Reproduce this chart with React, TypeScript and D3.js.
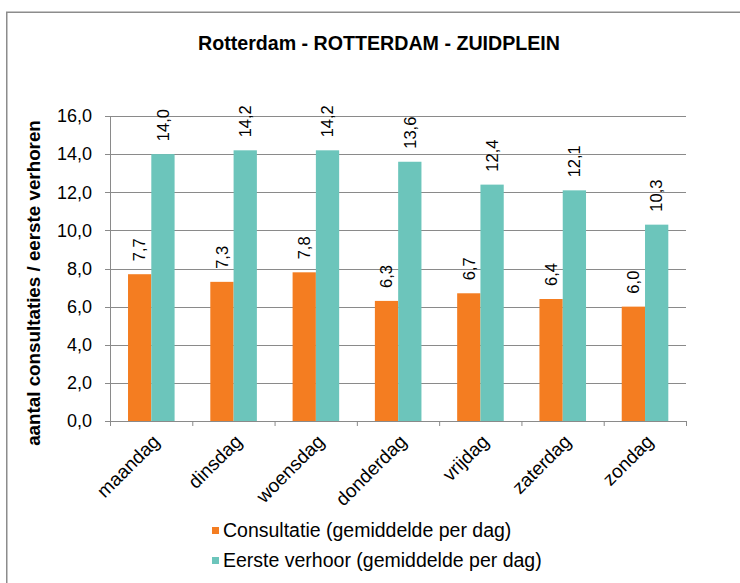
import React from "react";
import * as d3 from "d3";

const days = ["maandag", "dinsdag", "woensdag", "donderdag", "vrijdag", "zaterdag", "zondag"];
const consultatie = [7.7, 7.3, 7.8, 6.3, 6.7, 6.4, 6.0];
const eersteVerhoor = [14.0, 14.2, 14.2, 13.6, 12.4, 12.1, 10.3];
const yTicks = [0, 2, 4, 6, 8, 10, 12, 14, 16];
const seriesNames = ["Consultatie (gemiddelde per dag)", "Eerste verhoor (gemiddelde per dag)"];
const title = "Rotterdam - ROTTERDAM - ZUIDPLEIN";
const yTitle = "aantal consultaties / eerste verhoren";

const colors = ["#F47D21", "#6CC5BB"];
const fmt = (v: number) => v.toFixed(1).replace(".", ",");

export default function App() {
  const left = 110, right = 686, top = 116, bottom = 421;
  const x = d3.scaleBand<string>().domain(days).range([left, right]).padding(0);
  const bw = x.bandwidth();
  const inner = d3.scaleBand<string>().domain(["c", "e"]).range([bw * 0.219, bw * 0.785]).padding(0);
  const y = d3.scaleLinear().domain([0, 16]).range([bottom, top]);
  const font = "Liberation Sans, Arial, sans-serif";
  const series = [consultatie, eersteVerhoor];
  const keys = ["c", "e"];
  const grid = "#8a8a8a";

  return (
    <svg width={740} height={583} style={{ position: "absolute", left: 0, top: 0, background: "#fff" }} fontFamily={font}>
      <rect x={6.75} y={12.25} width={800} height={700} fill="#fff" stroke="#8c8c8c" strokeWidth={1.5} />
      <text x={379} y={50} textAnchor="middle" fontSize={21} fontWeight="bold" fill="#000" textLength={362} lengthAdjust="spacingAndGlyphs">{title}</text>
      {yTicks.map((t) => (
        <g key={t}>
          <line x1={left} x2={right} y1={Math.round(y(t)) + 0.5} y2={Math.round(y(t)) + 0.5} stroke={grid} strokeWidth={1} />
          <line x1={left - 5} x2={left} y1={Math.round(y(t)) + 0.5} y2={Math.round(y(t)) + 0.5} stroke={grid} />
          <text x={92} y={y(t)} dy="0.35em" textAnchor="end" fontSize={18} fill="#000">{fmt(t)}</text>
        </g>
      ))}
      <line x1={left + 0.5} x2={left + 0.5} y1={top} y2={bottom} stroke={grid} />
      {days.map((d, i) => (
        <g key={d}>
          {series.map((s, k) => {
            const bx = (x(d) as number) + (inner(keys[k]) as number);
            const w = inner.bandwidth();
            return (
              <g key={k}>
                <rect x={bx} y={y(s[i])} width={w} height={bottom - y(s[i])} fill={colors[k]} />
                <text
                  transform={`translate(${bx + w / 2},${y(s[i]) - 13}) rotate(-90)`}
                  dy="0.35em"
                  textAnchor="start"
                  fontSize={16.5}
                  fill="#000"
                >
                  {fmt(s[i])}
                </text>
              </g>
            );
          })}
        </g>
      ))}
      {[...days.map((d) => x(d) as number), right].map((px, i) => (
        <line key={i} x1={px + 0.5} x2={px + 0.5} y1={bottom} y2={bottom + 5} stroke={grid} />
      ))}
      <line x1={left} x2={right} y1={bottom + 0.5} y2={bottom + 0.5} stroke={grid} />
      {days.map((d) => (
        <text
          key={d}
          transform={`translate(${(x(d) as number) + bw / 2 + 5},${bottom + 17}) rotate(-45)`}
          textAnchor="end"
          dy="0.35em"
          fontSize={19}
          fill="#000"
        >
          {d}
        </text>
      ))}
      <text transform={`translate(40,283) rotate(-90)`} textAnchor="middle" fontSize={18.8} fontWeight="bold" fill="#000">
        {yTitle}
      </text>
      {seriesNames.map((n, k) => (
        <g key={n} transform={`translate(212,${530.5 + k * 30})`}>
          <rect x={0} y={-3.5} width={7} height={7} fill={colors[k]} />
          <text x={11} y={0} dy="0.35em" fontSize={19.5} fill="#000">{n}</text>
        </g>
      ))}
    </svg>
  );
}
